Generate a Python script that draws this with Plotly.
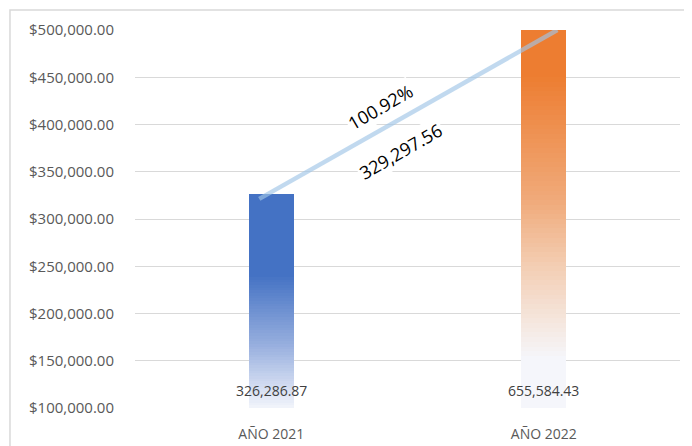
import plotly.graph_objects as go

# ---- data ----
categories = ["AÑO 2021", "AÑO 2022"]
values = [326286.87, 655584.43]
y_min, y_max, y_step = 100000, 500000, 50000

difference = values[1] - values[0]
pct_change = difference / values[0] * 100

# ---- style ----
FONT = "Open Sans"
grid_col = "#D9D9D9"
# gradient stops: (fraction from top of visible bar, rgb)
grad_stops = [
    [(0.0, (68, 114, 196)), (0.38, (68, 114, 196)), (0.70, (150, 174, 222)), (1.0, (242, 244, 251))],
    [(0.0, (237, 125, 49)), (0.12, (237, 125, 49)), (0.45, (240, 170, 122)), (0.62, (243, 205, 178)),
     (0.80, (245, 235, 230)), (0.87, (245, 246, 251)), (1.0, (245, 246, 251))],
]
N = 80
bar_w = 0.165


def interp(stops, f):
    for (f0, c0), (f1, c1) in zip(stops[:-1], stops[1:]):
        if f0 <= f <= f1:
            t = 0 if f1 == f0 else (f - f0) / (f1 - f0)
            return "rgb(%d,%d,%d)" % tuple(round(a + (b - a) * t) for a, b in zip(c0, c1))
    return "rgb(%d,%d,%d)" % stops[-1][1]


xs = list(range(len(categories)))
tops = [min(v, y_max) for v in values]
fig = go.Figure()
for i in range(N):
    bases, hs, cols = [], [], []
    for k, top in enumerate(tops):
        h = (top - y_min) / N
        bases.append(y_min + i * h)
        hs.append(h * (1.0 if i == N - 1 else 1.03))
        f_top = 1 - (i + 0.5) / N
        cols.append(interp(grad_stops[k], f_top))
    fig.add_trace(go.Bar(x=xs, y=hs, base=bases, width=bar_w,
                         marker=dict(color=cols, line=dict(width=0)),
                         hoverinfo="skip", showlegend=False))

# connecting line
lx = [xs[0] - 0.044, xs[1] + 0.05]
ly = [tops[0] - 5000, tops[1]]
fig.add_trace(go.Scatter(x=lx, y=ly, mode="lines", cliponaxis=False,
                         line=dict(color="rgba(160,196,230,0.65)", width=4.5),
                         hoverinfo="skip", showlegend=False))

slope = (ly[1] - ly[0]) / (lx[1] - lx[0])
ann = []
for xp, shift, txt in [(0.40, 23, f"{pct_change:.2f}%"), (0.477, -33, f"{difference:,.2f}")]:
    ann.append(dict(x=xp, y=ly[0] + slope * (xp - lx[0]), yshift=shift, text=txt, showarrow=False,
                    textangle=-30, bgcolor="white", font=dict(family=FONT, size=18, color="#000000")))
for x, v in zip(xs, values):
    ann.append(dict(x=x, y=y_min, yanchor="bottom", yshift=6, text=f"{v:,.2f}", showarrow=False,
                    font=dict(family=FONT, size=14, color="#404040")))

# page body has an 8px margin, so the figure is drawn 8px smaller and margins compensate
fig.update_layout(
    width=684, height=438,
    margin=dict(l=127, r=12, t=22, b=38),
    paper_bgcolor="white", plot_bgcolor="white",
    barmode="overlay", bargap=0,
    annotations=ann,
    shapes=[dict(type="rect", xref="paper", yref="paper", x0=-0.2294, x1=1.04, y0=-0.12, y1=1.0529,
                 line=dict(color=grid_col, width=1.5), layer="below")],
    xaxis=dict(range=[-0.5, 1.5], tickvals=xs, ticktext=categories, showgrid=False, zeroline=False,
               ticks="outside", ticklen=13, tickcolor="rgba(0,0,0,0)", automargin=False,
               tickfont=dict(family=FONT, size=14, color="#595959")),
    yaxis=dict(range=[y_min, y_max], dtick=y_step, tick0=y_min, tickprefix="$", tickformat=",.2f",
               showgrid=True, gridcolor=grid_col, gridwidth=1, zeroline=False,
               ticklabelstandoff=20, automargin=False,
               tickfont=dict(family=FONT, size=15, color="#595959")),
)
fig.write_html("out.html")
